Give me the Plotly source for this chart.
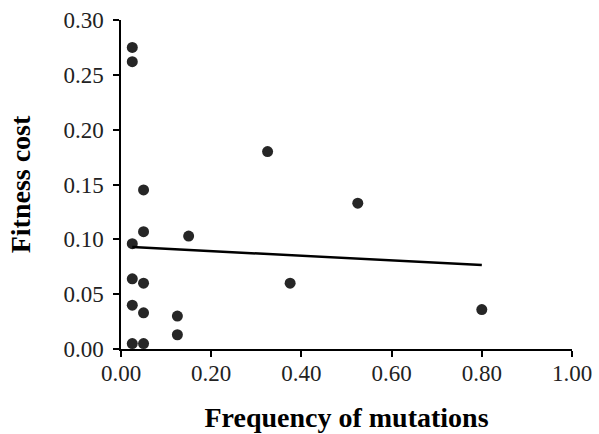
import plotly.graph_objects as go

freq = [0.025, 0.025, 0.025, 0.025, 0.025, 0.025,
        0.05, 0.05, 0.05, 0.05, 0.05,
        0.125, 0.125, 0.15, 0.325, 0.375, 0.525, 0.8]
cost = [0.275, 0.262, 0.096, 0.064, 0.040, 0.005,
        0.145, 0.107, 0.060, 0.033, 0.005,
        0.030, 0.013, 0.103, 0.180, 0.060, 0.133, 0.036]
trend_x = [0.025, 0.8]
trend_y = [0.093, 0.0765]

x_ticks = [0.0, 0.2, 0.4, 0.6, 0.8, 1.0]
y_ticks = [0.0, 0.05, 0.10, 0.15, 0.20, 0.25, 0.30]

fig = go.Figure()
fig.add_trace(go.Scatter(x=freq, y=cost, mode="markers",
                         marker=dict(size=11, color="#262626", line=dict(width=0)),
                         showlegend=False, cliponaxis=False))
fig.add_trace(go.Scatter(x=trend_x, y=trend_y, mode="lines",
                         line=dict(color="black", width=2.5), showlegend=False))

font_family = "Liberation Serif, Times New Roman, serif"
fig.update_layout(
    width=599, height=434,
    margin=dict(l=121, r=27, t=20, b=85),
    paper_bgcolor="white", plot_bgcolor="white",
    font=dict(family=font_family, size=23, color="#222222"),
    xaxis=dict(range=[0, 1], tickvals=x_ticks, ticktext=[f"{v:.2f}" for v in x_ticks],
               automargin=False,
               showgrid=False, zeroline=False, showline=True, linecolor="black", linewidth=1.5,
               ticks="outside", ticklen=6, tickcolor="black", tickwidth=1.5,
               ticklabelstandoff=-3,
               title=dict(text="<b>Frequency of mutations</b>", font=dict(size=28, color="black"), standoff=22)),
    yaxis=dict(range=[0, 0.3], tickvals=y_ticks, ticktext=[f"{v:.2f}" for v in y_ticks],
               automargin=False,
               showgrid=False, zeroline=False, showline=True, linecolor="black", linewidth=1.5,
               ticks="outside", ticklen=6, tickcolor="black", tickwidth=1.5,
               ticklabelstandoff=5,
               title=dict(text="<b>Fitness cost</b>", font=dict(size=28, color="black"), standoff=25)),
)
fig.write_html("out.html")
